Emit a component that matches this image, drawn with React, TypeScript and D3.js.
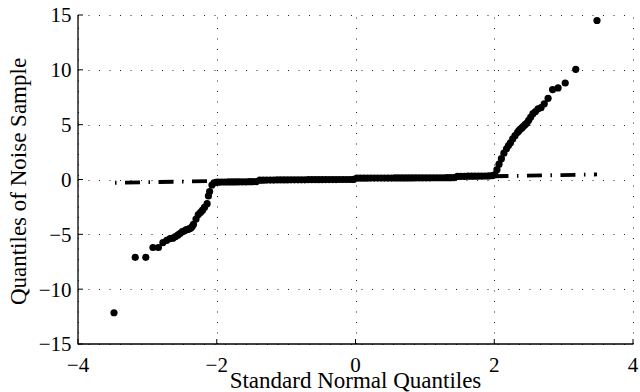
import React from "react";
import * as d3 from "d3";

// Theoretical (standard normal) quantiles of the plotted points
const lowerTailX = [-3.481, -3.175, -3.023, -2.92, -2.841, -2.776, -2.721, -2.674, -2.632, -2.594, -2.558, -2.526, -2.496, -2.47, -2.444, -2.42, -2.398, -2.376, -2.356, -2.336, -2.299, -2.266, -2.234, -2.205, -2.177, -2.139, -2.12, -2.103, -2.069, -2.039, -2.009];
const lowerTailY = [-12.15, -7.1, -7.1, -6.2, -6.2, -5.75, -5.55, -5.4, -5.35, -5.2, -5.05, -4.9, -4.75, -4.7, -4.6, -4.55, -4.5, -4.45, -4.3, -4.1, -3.6, -3.2, -3.0, -2.8, -2.55, -2.2, -1.5, -1.1, -0.5, -0.3, -0.25];

const centerX = [-1.98, -1.93, -1.88, -1.83, -1.78, -1.73, -1.68, -1.63, -1.58, -1.53, -1.48, -1.43, -1.38, -1.33, -1.28, -1.23, -1.18, -1.13, -1.08, -1.03, -0.98, -0.93, -0.88, -0.83, -0.78, -0.73, -0.68, -0.63, -0.58, -0.53, -0.48, -0.43, -0.38, -0.33, -0.28, -0.23, -0.18, -0.13, -0.08, -0.03, 0.02, 0.07, 0.12, 0.17, 0.22, 0.27, 0.32, 0.37, 0.42, 0.47, 0.52, 0.57, 0.62, 0.67, 0.72, 0.77, 0.82, 0.87, 0.92, 0.97, 1.02, 1.07, 1.12, 1.17, 1.22, 1.27, 1.32, 1.37, 1.42, 1.47, 1.52, 1.57, 1.62, 1.67, 1.72, 1.77, 1.82, 1.87, 1.92, 1.97];
const centerY = [-0.24, -0.23, -0.23, -0.22, -0.22, -0.22, -0.21, -0.21, -0.21, -0.2, -0.2, -0.19, -0.06, -0.06, -0.05, -0.05, -0.05, -0.04, -0.04, -0.04, -0.04, -0.03, -0.03, -0.03, -0.03, -0.03, -0.02, -0.02, -0.02, -0.02, -0.02, -0.01, -0.01, -0.01, -0.01, 0.0, 0.0, 0.0, 0.0, 0.01, 0.12, 0.12, 0.12, 0.12, 0.13, 0.13, 0.13, 0.13, 0.13, 0.13, 0.13, 0.14, 0.14, 0.14, 0.14, 0.14, 0.14, 0.15, 0.15, 0.15, 0.15, 0.15, 0.16, 0.16, 0.16, 0.16, 0.17, 0.17, 0.18, 0.28, 0.29, 0.29, 0.3, 0.3, 0.3, 0.31, 0.31, 0.32, 0.33, 0.35];

const upperTailX = [2.009, 2.039, 2.069, 2.103, 2.139, 2.177, 2.205, 2.234, 2.266, 2.299, 2.336, 2.356, 2.376, 2.398, 2.42, 2.444, 2.47, 2.496, 2.526, 2.558, 2.594, 2.632, 2.674, 2.721, 2.776, 2.841, 2.92, 3.023, 3.175, 3.481];
const upperTailY = [0.45, 0.9, 1.4, 1.9, 2.4, 2.8, 3.1, 3.35, 3.7, 4.0, 4.3, 4.45, 4.6, 4.7, 4.85, 5.0, 5.15, 5.4, 5.7, 6.0, 6.2, 6.45, 6.55, 6.9, 7.4, 8.2, 8.35, 8.8, 10.05, 14.5];

// Reference (dash-dot) line endpoints
const refX = [-3.481, 3.481];
const refY = [-0.3, 0.46];

const xTicks = [-4, -2, 0, 2, 4];
const yTicks = [-15, -10, -5, 0, 5, 10, 15];

const xLabel = "Standard Normal Quantiles";
const yLabel = "Quantiles of Noise Sample";

const W = 640;
const H = 392;
const L = 78;
const R = 633;
const T = 15;
const B = 344;

const fmt = (v: number) => (v < 0 ? "\u2212" + Math.abs(v) : String(v));
const FONT = '"Liberation Serif", "Times New Roman", Times, "DejaVu Serif", serif';

export default function App() {
  const x = d3.scaleLinear().domain([-4, 4]).range([L, R]);
  const y = d3.scaleLinear().domain([-15, 15]).range([B, T]);

  const pts: [number, number][] = [];
  lowerTailX.forEach((v, i) => pts.push([v, lowerTailY[i]]));
  centerX.forEach((v, i) => pts.push([v, centerY[i]]));
  upperTailX.forEach((v, i) => pts.push([v, upperTailY[i]]));

  const line = d3
    .line<number>()
    .x((_, i) => x(refX[i]))
    .y((d) => y(d));

  const txt = { fontFamily: FONT, fill: "#000" } as React.CSSProperties;

  return (
    <svg
      width={W}
      height={H}
      style={{ position: "absolute", left: 0, top: 0, background: "#fff" }}
    >
      <rect x={0} y={0} width={W} height={H} fill="#fff" />
      {/* grid */}
      {xTicks.map((t) => (
        <line
          key={"gx" + t}
          x1={Math.round(x(t)) + 0.5}
          x2={Math.round(x(t)) + 0.5}
          y1={B}
          y2={T}
          stroke="#222"
          strokeWidth={1}
          strokeDasharray="1 9.5"
        />
      ))}
      {yTicks.map((t) => (
        <line
          key={"gy" + t}
          x1={L}
          x2={R}
          y1={Math.round(y(t)) + 0.5}
          y2={Math.round(y(t)) + 0.5}
          stroke="#222"
          strokeWidth={1}
          strokeDasharray="1 9.5"
        />
      ))}
      {/* axes */}
      <line x1={L} x2={L} y1={T} y2={B + 0.5} stroke="#000" strokeWidth={1.3} />
      <line x1={L} x2={R + 0.5} y1={B} y2={B} stroke="#000" strokeWidth={1.3} />
      {xTicks.map((t) => (
        <line key={"tx" + t} x1={x(t)} x2={x(t)} y1={B} y2={B - 5} stroke="#000" strokeWidth={1} />
      ))}
      {yTicks.map((t) => (
        <line key={"ty" + t} x1={L} x2={L + 5} y1={y(t)} y2={y(t)} stroke="#000" strokeWidth={1} />
      ))}
      {/* reference line */}
      <path
        d={line(refY) || ""}
        fill="none"
        stroke="#000"
        strokeWidth={3.8}
        strokeDasharray="1.5 8.5 15 8.5"
        strokeDashoffset={-1}
      />
      {/* points */}
      {pts.map((p, i) => (
        <circle key={i} cx={x(p[0])} cy={y(p[1])} r={3.6} fill="#000" />
      ))}
      {/* tick labels */}
      {xTicks.map((t) => (
        <text key={"lx" + t} x={x(t)} y={372} textAnchor="middle" fontSize={21} style={txt}>
          {fmt(t)}
        </text>
      ))}
      {yTicks.map((t) => (
        <text
          key={"ly" + t}
          x={71.5}
          y={y(t)}
          dy="0.35em"
          textAnchor="end"
          fontSize={21}
          style={txt}
        >
          {fmt(t)}
        </text>
      ))}
      <text x={(L + R) / 2} y={387.5} textAnchor="middle" fontSize={23} style={txt}>
        {xLabel}
      </text>
      <text
        transform={`translate(25.5, ${(T + B) / 2 + 2}) rotate(-90)`}
        textAnchor="middle"
        fontSize={23}
        style={txt}
      >
        {yLabel}
      </text>
    </svg>
  );
}
